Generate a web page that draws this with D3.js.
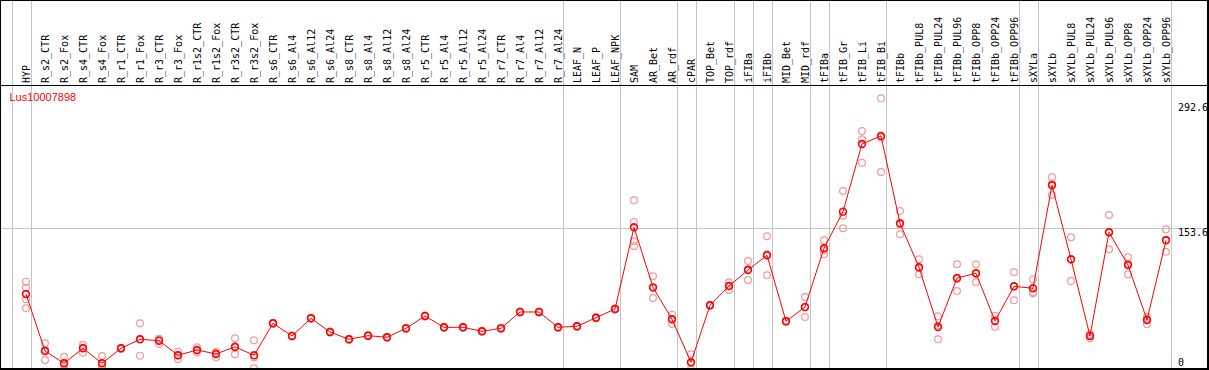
<!DOCTYPE html>
<html><head><meta charset="utf-8">
<script src="https://cdn.jsdelivr.net/npm/d3@7"></script>
<style>body{margin:0;background:#fff}svg{display:block}</style>
</head><body>
<script>
const categories = ["HYP","R_s2_CTR","R_s2_Fox","R_s4_CTR","R_s4_Fox","R_r1_CTR","R_r1_Fox","R_r3_CTR","R_r3_Fox","R_r1s2_CTR","R_r1s2_Fox","R_r3s2_CTR","R_r3s2_Fox","R_s6_CTR","R_s6_Al4","R_s6_Al12","R_s6_Al24","R_s8_CTR","R_s8_Al4","R_s8_Al12","R_s8_Al24","R_r5_CTR","R_r5_Al4","R_r5_Al12","R_r5_Al24","R_r7_CTR","R_r7_Al4","R_r7_Al12","R_r7_Al24","LEAF_N","LEAF_P","LEAF_NPK","SAM","AR_Bet","AR_rdf","cPAR","TOP_Bet","TOP_rdf","iFIBa","iFIBb","MID_Bet","MID_rdf","tFIBa","tFIB_Gr","tFIB_Li","tFIB_Bi","tFIBb","tFIBb_PUL8","tFIBb_PUL24","tFIBb_PUL96","tFIBb_OPP8","tFIBb_OPP24","tFIBb_OPP96","sXYLa","sXYLb","sXYLb_PUL8","sXYLb_PUL24","sXYLb_PUL96","sXYLb_OPP8","sXYLb_OPP24","sXYLb_OPP96"];
const means = [82.8,21.5,8.3,24.4,8.3,24.4,34.1,32.6,16.9,22.6,18.3,26.1,16.9,51.3,37.7,56.7,42.0,34.1,38.0,36.3,45.9,59.2,47.0,47.0,42.7,45.9,63.5,63.5,47.0,48.1,57.3,66.7,154.6,90.0,55.6,9.4,70.7,91.4,108.6,124.5,53.5,68.8,132.0,171.4,244.2,252.8,158.9,111.6,47.3,100.0,105.1,53.8,91.1,89.0,199.8,120.2,37.7,149.2,114.0,54.9,140.6];
const replicates = [
 [96.1,89.6,77.1,67.4],[29.8,22.9,11.8],[15.4,6.6,2.9],[28.3,25.2,19.7],[16.1,5.9,2.9],
 [25.0,24.4,23.8],[51.3,34.5,16.5],[34.1,34.7,29.0],[20.8,17.3,12.6],[25.5,22.2,20.1],
 [20.8,19.4,14.7],[35.2,25.1,18.0],[33.0,14.8,2.9],[51.9,51.3,50.7],[38.3,37.7,37.1],
 [57.3,56.7,56.1],[42.6,42.0,41.4],[34.7,34.1,33.5],[38.6,38.0,37.4],[36.9,36.3,35.7],
 [46.5,45.9,45.3],[59.8,59.2,58.6],[47.6,47.0,46.4],[47.6,47.0,46.4],[43.3,42.7,42.1],
 [46.5,45.9,45.3],[64.1,63.5,62.9],[64.1,63.5,62.9],[47.6,47.0,46.4],[48.7,48.1,47.5],
 [57.9,57.3,56.7],[67.3,66.7,66.1],[183.6,160.3,139.5,134.5],[101.9,89.6,78.5],[60.6,55.6,50.6],
 [18.0,8.4,1.8],[71.3,70.7,70.1],[95.4,91.7,87.1],[118.3,109.6,97.9],[144.9,125.7,102.9],
 [54.1,53.5,52.9],[79.6,68.7,58.1],[140.6,129.9,125.5],[193.6,167.1,153.5],[258.2,249.2,224.1],
 [293.3,251.0,214.1],[172.1,157.5,147.1],[120.2,110.6,104.0],[58.8,49.0,34.1],[114.8,99.1,86.1],
 [114.8,104.8,95.7],[59.5,54.2,47.7],[106.2,91.0,76.1],[98.6,84.8,83.6],[208.4,201.7,189.3],
 [143.8,120.0,96.8],[39.8,38.1,35.2],[167.8,149.0,130.9],[122.3,115.7,104.0],[58.4,56.1,50.2],
 [152.4,141.1,128.3]
];
const groupEnds = ["HYP","R_r7_Al24","LEAF_NPK","AR_rdf","cPAR","TOP_rdf","iFIBa","iFIBb","MID_rdf","tFIBa","tFIB_Bi","tFIBb_OPP96","sXYLa","sXYLb_OPP96"];
const yTicks = [0, 153.6, 292.6];
const tickLabels = ["0","153.6","292.6"];
const geneName = "Lus10007898";

const W = 1209, H = 370;
const svg = d3.select("body").append("svg").attr("width", W).attr("height", H);
const x = d3.scalePoint().domain(categories).range([26, 1166]);
const step = x.step();
const y = d3.scaleLinear().domain([0, 292.6]).range([371, 99]);

// grid lines
const vlines = [x(categories[0]) - step].concat(groupEnds.map(c => x(c)));
svg.append("g").selectAll("line").data(vlines).join("line")
  .attr("x1", d => Math.round(d + 4.5) + 0.5).attr("x2", d => Math.round(d + 4.5) + 0.5)
  .attr("y1", 0).attr("y2", H).attr("stroke", "#c4c4c4").attr("stroke-width", 1);
svg.append("line").attr("x1", 0).attr("x2", W).attr("y1", Math.round(y(153.6)) + 0.5).attr("y2", Math.round(y(153.6)) + 0.5)
  .attr("stroke", "#c4c4c4").attr("stroke-width", 1);

// frame
svg.append("rect").attr("x", 0.5).attr("y", 0.5).attr("width", W - 2).attr("height", H - 2)
  .attr("fill", "none").attr("stroke", "#000").attr("stroke-width", 1);
svg.append("line").attr("x1", W - 1).attr("x2", W - 1).attr("y1", 0).attr("y2", H).attr("stroke", "#000").attr("stroke-width", 2);
svg.append("line").attr("x1", 0).attr("x2", W).attr("y1", H - 1).attr("y2", H - 1).attr("stroke", "#000").attr("stroke-width", 2);
svg.append("line").attr("x1", 0).attr("x2", W).attr("y1", 85.5).attr("y2", 85.5).attr("stroke", "#000").attr("stroke-width", 1);

// category labels
svg.append("g").selectAll("text").data(categories).join("text")
  .attr("transform", d => `translate(${x(d) + 3.5},83) rotate(-90)`)
  .attr("text-anchor", "start")
  .style("font-family", "'DejaVu Sans Mono', monospace").style("font-size", "10px")
  .attr("fill", "#000").text(d => d);

// y tick labels
svg.append("g").selectAll("text").data(yTicks).join("text")
  .attr("x", 1178)
  .attr("y", d => Math.max(110.5, Math.min(365.5, y(d) + 8)))
  .style("font-family", "'DejaVu Sans Mono', monospace").style("font-size", "10px")
  .attr("fill", "#000").text((d, i) => tickLabels[i]);

// gene name
svg.append("text").attr("x", 9.5).attr("y", 101)
  .style("font-family", "'Liberation Sans', Arial, sans-serif").style("font-size", "11px")
  .attr("fill", "#ff0000").text(geneName);

// clip
svg.append("clipPath").attr("id", "plotclip").append("rect")
  .attr("x", 1).attr("y", 86).attr("width", W - 3).attr("height", H - 88);
const plot = svg.append("g").attr("clip-path", "url(#plotclip)");

const repData = [];
replicates.forEach((arr, i) => arr.forEach(v => repData.push({c: categories[i], v})));
plot.append("g").selectAll("circle").data(repData).join("circle")
  .attr("cx", d => x(d.c)).attr("cy", d => y(d.v)).attr("r", 3.4)
  .attr("fill", "none").attr("stroke", "#ef9a9a").attr("stroke-width", 1.2);

const line = d3.line().x((d, i) => x(categories[i])).y(d => y(d));
plot.append("path").datum(means).attr("d", line)
  .attr("fill", "none").attr("stroke", "#ff0000").attr("stroke-width", 1);

plot.append("g").selectAll("circle").data(means).join("circle")
  .attr("cx", (d, i) => x(categories[i])).attr("cy", d => y(d)).attr("r", 3.4)
  .attr("fill", "none").attr("stroke", "#ff0000").attr("stroke-width", 1.6);
</script>
</body></html>
